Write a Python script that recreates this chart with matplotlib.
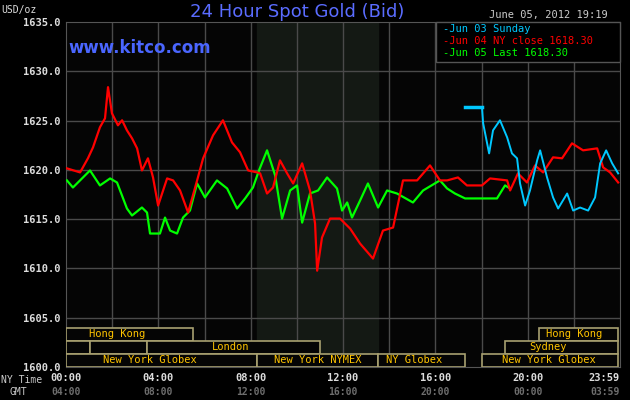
import matplotlib
matplotlib.use("Agg")

import matplotlib.pyplot as plt
from matplotlib.patches import Rectangle

# hours since 00:00 NY time, bid price in USD/oz
red_hours = [0.04, 0.61, 0.95, 1.17, 1.47, 1.69, 1.82, 1.99, 2.25, 2.43, 2.64, 2.86, 3.08, 3.29, 3.55,
             3.77, 3.99, 4.38, 4.64, 4.94, 5.29, 5.68, 5.94, 6.37, 6.80, 7.19, 7.54, 7.89, 8.28, 8.41,
             8.71, 8.97, 9.27, 9.58, 9.84, 10.23, 10.57, 10.79, 10.88, 11.09, 11.44, 11.87, 12.31, 12.74,
             13.30, 13.73, 14.17, 14.60, 15.21, 15.77, 16.20, 16.51, 16.98, 17.37, 18.02, 18.37, 19.11,
             19.24, 19.58, 19.97, 20.32, 20.67, 21.10, 21.49, 21.92, 22.40, 23.01, 23.27, 23.57, 23.92]
red_price = [1620.15, 1619.74, 1621.17, 1622.28, 1624.32, 1625.23, 1628.39, 1625.74, 1624.52, 1625.03,
             1624.01, 1623.20, 1622.18, 1619.94, 1621.17, 1619.23, 1616.38, 1619.13, 1618.93, 1617.91,
             1615.67, 1618.93, 1621.17, 1623.50, 1625.03, 1622.79, 1621.78, 1619.94, 1619.74, 1619.64,
             1617.60, 1618.21, 1620.96, 1619.64, 1618.62, 1620.66, 1617.91, 1614.55, 1609.77, 1613.13,
             1615.06, 1615.06, 1614.04, 1612.52, 1611.00, 1613.84, 1614.15, 1618.93, 1618.93, 1620.45,
             1618.93, 1618.93, 1619.23, 1618.42, 1618.42, 1619.13, 1618.93, 1617.91, 1619.64, 1618.72,
             1620.45, 1619.74, 1621.27, 1621.17, 1622.69, 1621.98, 1622.18, 1620.25, 1619.74, 1618.72]

green_hours = [0.04, 0.30, 1.04, 1.47, 1.91, 2.21, 2.64, 2.86, 3.29, 3.51, 3.64, 4.07, 4.29, 4.51, 4.81,
               5.07, 5.37, 5.68, 6.02, 6.54, 6.98, 7.41, 7.76, 8.10, 8.36, 8.71, 9.06, 9.36, 9.71, 10.01,
               10.23, 10.57, 10.92, 11.31, 11.74, 11.96, 12.18, 12.39, 12.74, 13.08, 13.52, 13.91, 14.34,
               15.03, 15.47, 16.20, 16.51, 16.85, 17.29, 18.02, 18.67, 19.02, 19.24]
green_price = [1618.93, 1618.21, 1619.94, 1618.42, 1619.13, 1618.72, 1616.08, 1615.37, 1616.18, 1615.67,
               1613.54, 1613.54, 1615.16, 1613.84, 1613.54, 1615.16, 1615.87, 1618.62, 1617.20, 1618.93,
               1618.11, 1616.08, 1617.10, 1618.21, 1619.94, 1621.98, 1619.43, 1615.06, 1617.91, 1618.42,
               1614.65, 1617.60, 1617.91, 1619.23, 1618.11, 1615.87, 1616.69, 1615.16, 1616.89, 1618.62,
               1616.18, 1617.91, 1617.60, 1616.69, 1617.91, 1618.93, 1618.11, 1617.60, 1617.10, 1617.10,
               1617.10, 1618.42, 1618.11]

blue_flat_hours = [17.29, 18.02]
blue_flat_price = [1626.35, 1626.35]
blue_hours = [18.02, 18.07, 18.33, 18.50, 18.80, 19.11, 19.32, 19.54, 19.67, 19.89, 20.10, 20.41, 20.54,
              20.84, 21.10, 21.32, 21.71, 21.97, 22.27, 22.62, 22.92, 23.14, 23.40, 23.66, 23.92]
blue_price = [1626.35, 1624.73, 1621.67, 1624.01, 1625.03, 1623.30, 1621.67, 1621.17, 1618.62, 1616.38,
              1617.91, 1620.96, 1621.98, 1619.23, 1617.20, 1616.08, 1617.60, 1615.87, 1616.18, 1615.87,
              1617.20, 1620.66, 1621.98, 1620.66, 1619.64]

y_ticks = [1600, 1605, 1610, 1615, 1620, 1625, 1630, 1635]
x_ticks = [0, 4, 8, 12, 16, 20, 23.98]
ny_labels = ["00:00", "04:00", "08:00", "12:00", "16:00", "20:00", "23:59"]
gmt_labels = ["04:00", "08:00", "12:00", "16:00", "20:00", "00:00", "03:59"]

# (start, end, row, label, label_x)
sessions = [
    (0, 5.5, 2, "Hong Kong", 2.2), (20.5, 23.92, 2, "Hong Kong", 22.0),
    (0, 1.04, 1, "", 0), (1.04, 3.5, 1, "", 0), (3.5, 11.0, 1, "London", 7.15),
    (19.0, 23.92, 1, "Sydney", 20.9),
    (0, 8.27, 0, "New York Globex", 3.65), (8.27, 13.5, 0, "New York NYMEX", 10.9),
    (13.5, 17.3, 0, "NY Globex", 15.1), (18.0, 23.92, 0, "New York Globex", 20.9),
]

mono = "DejaVu Sans Mono"
fig = plt.figure(figsize=(6.3, 4.0), dpi=100, facecolor="black")
ax = fig.add_axes([66 / 630, 33 / 400, 554 / 630, 345 / 400], facecolor="#050505")
ax.set_xlim(0, 24)
ax.set_ylim(1600, 1635)

ax.axvspan(8.27, 13.5, color="#141914", zorder=0)
for h in range(2, 24, 2):
    ax.axvline(h, color="#4a4a4a", lw=1, zorder=1)
for p in y_ticks[1:-1]:
    ax.axhline(p, color="#4a4a4a", lw=1, zorder=1)

ax.plot(green_hours, green_price, color="#00ff00", lw=1.6, zorder=3)
ax.plot(red_hours, red_price, color="#ff0000", lw=1.6, zorder=4)
ax.plot(blue_hours, blue_price, color="#00c8ff", lw=1.4, zorder=5)
ax.plot(blue_flat_hours, blue_flat_price, color="#00c8ff", lw=2.5, zorder=5)

row_h = 1.32
for start, end, row, label, lx in sessions:
    y0 = 1600 + row * row_h
    ax.add_patch(Rectangle((start, y0), end - start, row_h, facecolor="#050505",
                           edgecolor="#a8a070", lw=1.2, zorder=6))
    if label:
        ax.text(lx, y0 + row_h / 2, label, color="#ffc400", fontsize=7.5, family=mono,
                ha="center", va="center", zorder=7)

for s in ax.spines.values():
    s.set_color("#555555")
ax.set_yticks(y_ticks)
ax.set_yticklabels([f"{v:.1f}" for v in y_ticks], color="#dddddd", fontsize=7.5, family=mono,
                   fontweight="bold")
ax.set_xticks(x_ticks)
ax.set_xticklabels(ny_labels, color="#dddddd", fontsize=7.5, family=mono, fontweight="bold")
ax.get_xticklabels()[-1].set_ha("right")
ax.tick_params(length=0, pad=4)
for h, g in zip(x_ticks, gmt_labels):
    ax.text(h, -0.073, g, transform=ax.get_xaxis_transform(), color="#6e6e6e", fontsize=7,
            family=mono, fontweight="bold", ha="right" if h > 23 else "center", va="center")

fig.text(0.002, 0.05, "NY Time", color="#cccccc", fontsize=7, family=mono, va="center")
fig.text(0.015, 0.02, "GMT", color="#cccccc", fontsize=7, family=mono, va="center")
fig.text(0.002, 0.975, "USD/oz", color="#dddddd", fontsize=7, family=mono, va="center")
fig.text(297 / 630, 0.97, "24 Hour Spot Gold (Bid)", color="#5a6cff", fontsize=13, ha="center",
         va="center")
fig.text(68 / 630, 0.88, "www.kitco.com", color="#4a66ff", fontsize=12, fontweight="bold", va="center")
fig.text(0.965, 0.962, "June 05, 2012 19:19", color="#cccccc", fontsize=7.5, family=mono,
         ha="right", va="center")

leg = Rectangle((436 / 630, 338 / 400), 184 / 630, 40 / 400, transform=fig.transFigure,
                facecolor="black", edgecolor="#555555", lw=1, zorder=8)
fig.patches.append(leg)
legend_rows = [("Jun 03 Sunday", "#00c8ff"), ("Jun 04 NY close 1618.30", "#ff0000"),
               ("Jun 05 Last 1618.30", "#00ff00")]
for i, (txt, col) in enumerate(legend_rows):
    fig.text(443 / 630, 1 - (29 + 12 * i) / 400, "-" + txt, color=col, fontsize=7.5, family=mono,
             va="center", zorder=9)

fig.savefig("out.png", dpi=100, facecolor="black")
